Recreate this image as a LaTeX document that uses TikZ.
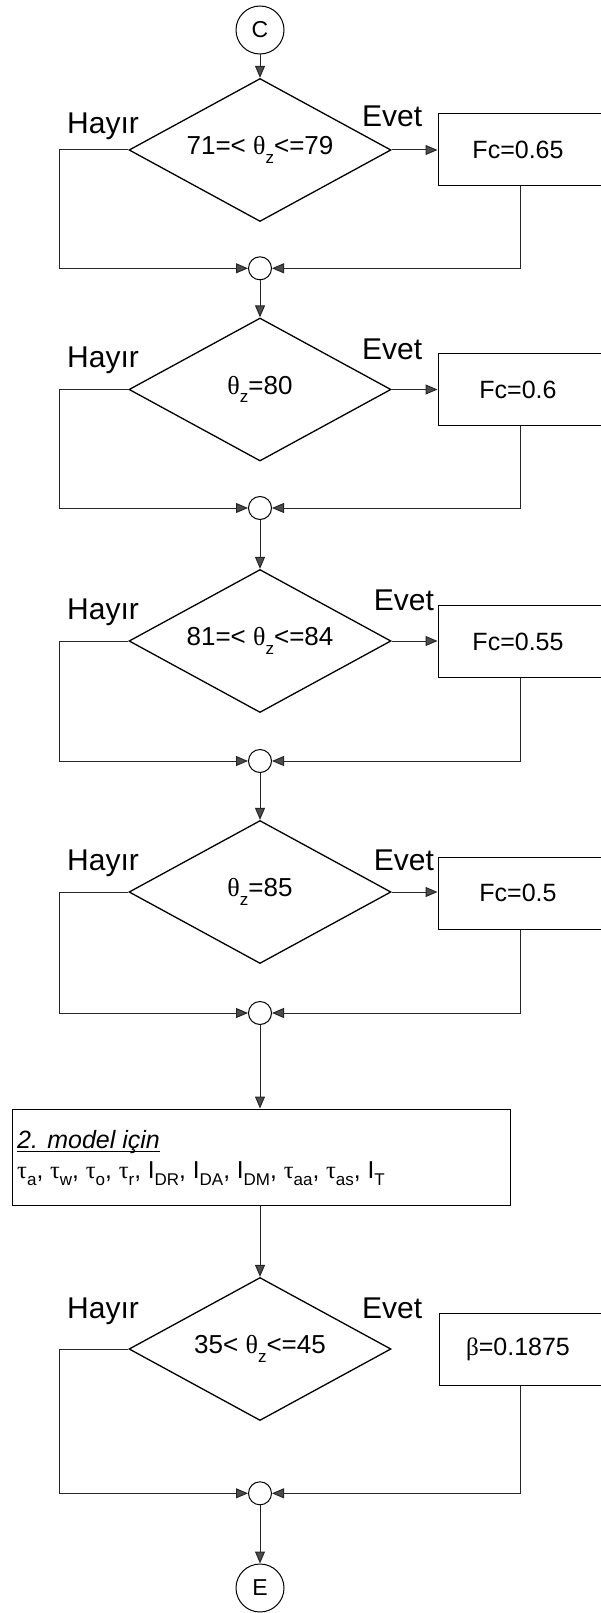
\documentclass[tikz,border=0pt]{standalone}
\usepackage{fontspec}
\setmainfont{Liberation Sans}
\newfontfamily\grk{Liberation Serif}
\usetikzlibrary{shapes.geometric,arrows.meta}
\newcommand\lowsub[1]{\raisebox{-0.32em}{\fontsize{17}{17}\selectfont #1}}
\newcommand\thz{{\grk θ}\lowsub{z}}
\newcommand\tu[1]{{\grk τ}\lowsub{#1}}
\newcommand\Iu[1]{I\lowsub{#1}}
\newcommand\myul[1]{\setbox0\hbox{#1}\rlap{\rule[-4pt]{\wd0}{1.2pt}}\box0}
\begin{document}
\begin{tikzpicture}[x=1pt,y=-1pt,
  ln/.style={line width=1pt, draw=black!85},
  arr/.style={ln, -{Triangle[length=12pt,width=10pt,fill=black!70]}},
  dec/.style={diamond, draw, line width=1.3pt, aspect=1.834, minimum width=262pt, minimum height=143pt, inner sep=0pt, font=\fontsize{26}{30}\selectfont},
  box/.style={draw, line width=1pt, minimum width=190pt, minimum height=72pt, inner sep=0pt},
  boxtxt/.style={font=\fontsize{25}{30}\selectfont, inner sep=0pt},
  lab/.style={font=\fontsize{30}{34}\selectfont, anchor=base west, inner sep=0pt},
  junc/.style={circle, draw, line width=1pt, minimum size=23pt, inner sep=0pt},
  term/.style={circle, draw, line width=1pt, minimum size=48pt, inner sep=0pt, font=\fontsize{23}{26}\selectfont}]
\path[use as bounding box] (0,0) rectangle (601,1613);
\clip (0,0) rectangle (601,1613);
\coordinate (L) at (59.4,0);
\coordinate (R) at (520.5,0);

\node[term] (C) at (260,30) {C};

% block 1
\node[dec] (d1) at (260,150) {71=< \thz<=79};
\node[box] (b1) at (533,150) {};
\node[boxtxt] (b1t) at (518,150) {Fc=0.65};
\node[lab] (h1) at (67,133.3) {Hayır};
\node[lab] (e1) at (362,127) {Evet};
\node[junc] (j1) at (260,268.3) {};

% block 2
\node[dec] (d2) at (260,389.5) {\thz=80};
\node[box] (b2) at (533,389.7) {};
\node[boxtxt] (b2t) at (518,389.7) {Fc=0.6};
\node[lab] (h2) at (67,367.3) {Hayır};
\node[lab] (e2) at (362,359.3) {Evet};
\node[junc] (j2) at (260,508) {};

% block 3
\node[dec] (d3) at (260,641) {81=< \thz<=84};
\node[box] (b3) at (533,641.7) {};
\node[boxtxt] (b3t) at (518,641.7) {Fc=0.55};
\node[lab] (h3) at (67,619.3) {Hayır};
\node[lab] (e3) at (373.7,610.7) {Evet};
\node[junc] (j3) at (260,761) {};

% block 4
\node[dec] (d4) at (260,892) {\thz=85};
\node[box] (b4) at (533,893) {};
\node[boxtxt] (b4t) at (518,893) {Fc=0.5};
\node[lab] (h4) at (67,870) {Hayır};
\node[lab] (e4) at (373.7,870) {Evet};
\node[junc] (j4) at (260,1013) {};

% model box
\node[draw, line width=1pt, minimum width=498pt, minimum height=96pt, inner sep=0pt] (m) at (261.5,1157) {};
\node[font=\fontsize{25}{30}\selectfont, anchor=base west, inner sep=0pt] (m1) at (17,1148) {\myul{\textit{2. model için}}};
\node[font=\fontsize{24.5}{28}\selectfont, anchor=base west, inner sep=0pt] (m2) at (17,1178)
  {\tu{a}, \tu{w}, \tu{o}, \tu{r}, \Iu{DR}, \Iu{DA}, \Iu{DM}, \tu{aa}, \tu{as}, \Iu{T}};

% block 5
\node[dec] (d5) at (260,1349) {35< \thz<=45};
\node[box] (b5) at (534.6,1349.7) {};
\node[boxtxt] (b5t) at (518,1349.7) {{\grk β}=0.1875};
\node[lab] (h5) at (67,1318.3) {Hayır};
\node[lab] (e5) at (362,1318.3) {Evet};
\node[junc] (j5) at (260,1493.3) {};

\node[term] (E) at (260,1588) {E};

% connectors
\draw[arr] (C) -- (d1.north);
\foreach \d/\b/\j in {d1/b1/j1, d2/b2/j2, d3/b3/j3, d4/b4/j4} {
  \draw[arr] (\d.east) -- (\b.west |- \d.east);
  \draw[arr] (\d.west) -- (\d.west -| L) |- (\j.west);
  \draw[arr] (\b.south -| R) |- (\j.east);
}
\draw[arr] (d5.west) -- (d5.west -| L) |- (j5.west);
\draw[arr] (b5.south -| R) |- (j5.east);
\draw[arr] (j1) -- (d2.north);
\draw[arr] (j2) -- (d3.north);
\draw[arr] (j3) -- (d4.north);
\draw[arr] (j4) -- (j4 |- m.north);
\draw[arr] (j4 |- m.south) -- (d5.north);
\draw[arr] (j5) -- (E);
\end{tikzpicture}
\end{document}
